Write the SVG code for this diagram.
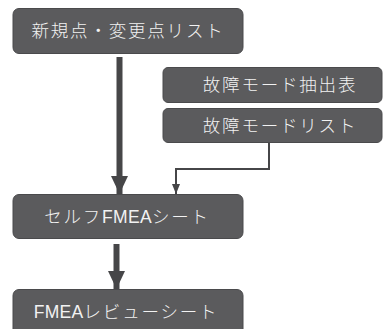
<svg xmlns="http://www.w3.org/2000/svg" width="386" height="329" viewBox="0 0 386 329">
<style>
.box{fill:#5b5b5d;stroke:#4a4a4c;stroke-width:1}
.t{fill:#f2f2f2;font-family:"Liberation Sans","Noto Sans CJK JP",sans-serif;font-size:17.5px;font-weight:300;text-anchor:middle;letter-spacing:1.8px}
.lat{font-weight:400;letter-spacing:0.3px}
.thick{stroke:#464648;stroke-width:6;fill:none}
.thin{stroke:#464648;stroke-width:2;fill:none}
</style>
<defs>
<marker id="big" markerUnits="userSpaceOnUse" markerWidth="18" markerHeight="17" refX="18" refY="8.5" orient="auto"><path d="M0,0 L18,8.5 L0,17 Z" fill="#464648"/></marker>
<marker id="small" markerUnits="userSpaceOnUse" markerWidth="10" markerHeight="8" refX="10" refY="4" orient="auto"><path d="M0,0 L10,4 L0,8 Z" fill="#464648"/></marker>
</defs>
<rect width="386" height="329" fill="#ffffff"/>
<g id="connectors">
<line class="thick" x1="119.5" y1="57" x2="119.5" y2="194" marker-end="url(#big)"/>
<polyline class="thin" points="269,138 269,169 176,169 176,194" marker-end="url(#small)"/>
<line class="thick" x1="116.5" y1="244" x2="116.5" y2="289" marker-end="url(#big)"/>
</g>
<g id="n1"><rect class="box" x="13" y="8.5" width="230" height="45" rx="6"/><text class="t" x="128" y="37">新規点・変更点リスト</text></g>
<g id="n2"><rect class="box" x="163" y="67.5" width="219" height="35" rx="5"/><text class="t" x="280" y="91">故障モード抽出表</text></g>
<g id="n3"><rect class="box" x="163" y="108.5" width="219" height="34" rx="5"/><text class="t" x="280" y="132">故障モードリスト</text></g>
<g id="n4"><rect class="box" x="13" y="194.5" width="230" height="44" rx="6"/><text class="t" x="127" y="223">セルフ<tspan class="lat">FMEA</tspan>シート</text></g>
<g id="n5"><rect class="box" x="13" y="289.5" width="230" height="50" rx="6"/><text class="t" x="126" y="318"><tspan class="lat">FMEA</tspan>レビューシート</text></g>
</svg>
